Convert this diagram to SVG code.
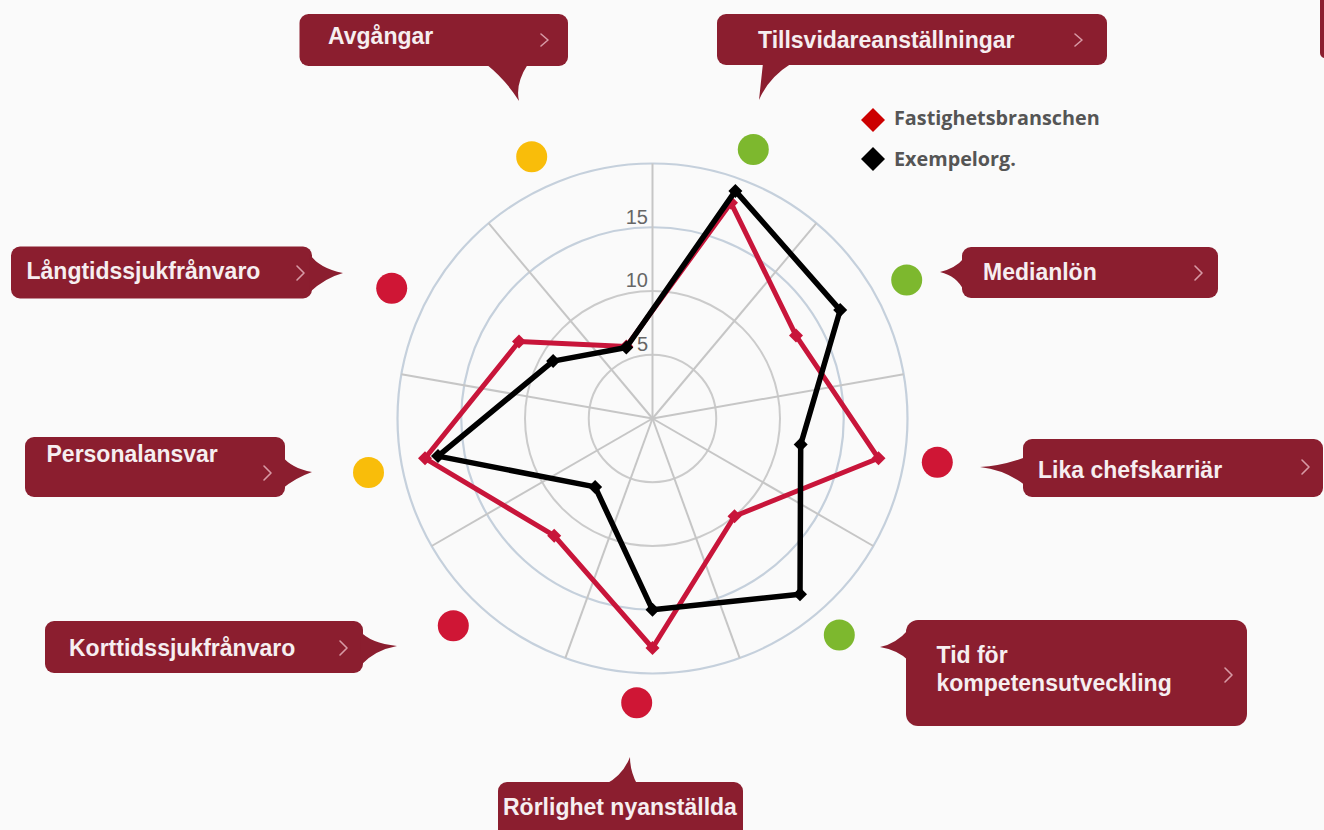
<svg xmlns="http://www.w3.org/2000/svg" width="1324" height="830" viewBox="0 0 1324 830">
<style>
.box{fill:#8b1e2f;}
.lbl{font-family:"Liberation Sans",Arial,sans-serif;font-weight:bold;font-size:23px;fill:#f6eef0;}
.chev{fill:none;stroke:#d79aa5;stroke-width:1.6;stroke-linecap:round;stroke-linejoin:round;}
.ring{fill:none;stroke:#cbcbcb;stroke-width:2;}
.ringb{fill:none;stroke:#c5d0dc;stroke-width:2.2;}
.spoke{stroke:#c6c6c6;stroke-width:2;}
.axis{font-family:"Liberation Sans",Arial,sans-serif;font-size:20px;fill:#666;text-anchor:end;}
.leg{font-family:"Open Sans","Liberation Sans",sans-serif;font-weight:bold;font-size:19.8px;fill:#555;}
.red{fill:none;stroke:#c8153a;stroke-width:5;stroke-linejoin:round;}
.blk{fill:none;stroke:#000;stroke-width:5.5;stroke-linejoin:round;}
.dG{fill:#7db82e;}
.dY{fill:#f9bd0a;}
.dR{fill:#cf1635;}
</style>
<defs>
<path id="mk" d="M0,-7 L7,0 L0,7 L-7,0 Z"/>
</defs>
<rect width="1324" height="830" fill="#fafafa"/>
<rect x="1320" y="-10" width="14" height="68" rx="5" fill="#8b1e2f"/>

<g id="chart">
<circle class="ring" cx="652.5" cy="418.5" r="63.75"/>
<circle class="ring" cx="652.5" cy="418.5" r="127.5"/>
<circle class="ringb" cx="652.5" cy="418.5" r="191.25"/>
<circle class="ringb" cx="652.5" cy="418.5" r="255"/>
<g>
<line class="spoke" x1="652.5" y1="418.5" x2="652.5" y2="163.5"/>
<line class="spoke" x1="652.5" y1="418.5" x2="816.4" y2="223.2"/>
<line class="spoke" x1="652.5" y1="418.5" x2="903.6" y2="374.2"/>
<line class="spoke" x1="652.5" y1="418.5" x2="873.3" y2="546"/>
<line class="spoke" x1="652.5" y1="418.5" x2="739.7" y2="658.1"/>
<line class="spoke" x1="652.5" y1="418.5" x2="565.3" y2="658.1"/>
<line class="spoke" x1="652.5" y1="418.5" x2="431.7" y2="546"/>
<line class="spoke" x1="652.5" y1="418.5" x2="401.4" y2="374.2"/>
<line class="spoke" x1="652.5" y1="418.5" x2="488.6" y2="223.2"/>
</g>
<text class="axis" x="648" y="351">5</text>
<text class="axis" x="648" y="287">10</text>
<text class="axis" x="648" y="224">15</text>
</g>

<g id="series">
<polygon class="red" points="731,202.8 796,335.6 878.5,458.3 734.5,516.2 652.5,648 554.2,535.7 425,458.3 519,341.5 626.3,346.6"/>
<g fill="#c8153a">
<use href="#mk" x="731" y="202.8"/><use href="#mk" x="796" y="335.6"/><use href="#mk" x="878.5" y="458.3"/>
<use href="#mk" x="734.5" y="516.2"/><use href="#mk" x="652.5" y="648"/><use href="#mk" x="554.2" y="535.7"/>
<use href="#mk" x="425" y="458.3"/><use href="#mk" x="519" y="341.5"/><use href="#mk" x="626.3" y="346.6"/>
</g>
<polygon class="blk" points="735.4,190.9 840.2,310.1 800.7,444.6 800,594.3 652.5,609.8 595.1,486.9 438,456.1 553.1,361.1 626.3,347.5"/>
<g fill="#000">
<use href="#mk" x="735.4" y="190.9"/><use href="#mk" x="840.2" y="310.1"/><use href="#mk" x="800.7" y="444.6"/>
<use href="#mk" x="800" y="594.3"/><use href="#mk" x="652.5" y="609.8"/><use href="#mk" x="595.1" y="486.9"/>
<use href="#mk" x="438" y="456.1"/><use href="#mk" x="553.1" y="361.1"/><use href="#mk" x="626.3" y="347.5"/>
</g>
</g>

<g id="legend">
<path d="M873,108 L885,120 L873,132 L861,120 Z" fill="#cc0000"/>
<text class="leg" x="894" y="125">Fastighetsbranschen</text>
<path d="M873,147 L885,159 L873,171 L861,159 Z" fill="#000"/>
<text class="leg" x="894" y="166">Exempelorg.</text>
</g>

<g id="dots">
<circle class="dY" cx="531.7" cy="156.7" r="15.5"/>
<circle class="dG" cx="753.3" cy="149.5" r="15.5"/>
<circle class="dG" cx="906.7" cy="280" r="15.5"/>
<circle class="dR" cx="937.3" cy="462.3" r="15.5"/>
<circle class="dG" cx="839.3" cy="635" r="15.5"/>
<circle class="dR" cx="636.7" cy="702.7" r="15.5"/>
<circle class="dR" cx="453.3" cy="625.7" r="15.5"/>
<circle class="dY" cx="368.5" cy="472.5" r="15.5"/>
<circle class="dR" cx="391.7" cy="288.3" r="15.5"/>
</g>

<g id="avgangar">
<rect class="box" x="299.5" y="14" width="268.5" height="52" rx="9"/>
<path class="box" d="M486,64 Q506,80 519,101 Q515,84 528,64 Z"/>
<text class="lbl" x="328" y="44">Avgångar</text>
<polyline class="chev" points="541,34 548,40 541,46"/>
</g>

<g id="tillsvidare">
<rect class="box" x="717" y="14" width="390" height="51" rx="9"/>
<path class="box" d="M763,63 L759,100 Q768,78 792,63 Z"/>
<text class="lbl" x="758" y="48">Tillsvidareanställningar</text>
<polyline class="chev" points="1075,34 1082,40 1075,46"/>
</g>

<g id="medianlon">
<rect class="box" x="962" y="247" width="256" height="51" rx="9"/>
<path class="box" d="M964,258 Q956,268 940,272 Q957,276 964,291 Z"/>
<text class="lbl" x="983" y="280">Medianlön</text>
<polyline class="chev" points="1195,266 1202,273 1195,280"/>
</g>

<g id="lika">
<rect class="box" x="1023" y="439" width="300" height="58" rx="9"/>
<path class="box" d="M1026,457 Q1002,466 980,467 Q1006,470 1026,486 Z"/>
<text class="lbl" x="1038" y="478">Lika chefskarriär</text>
<polyline class="chev" points="1302,460 1309,467 1302,474"/>
</g>

<g id="tid">
<rect class="box" x="906" y="620" width="341" height="106" rx="12"/>
<path class="box" d="M909,629 Q896,644 880,647 Q898,650 909,661 Z"/>
<text class="lbl" x="936.5" y="663">Tid för</text>
<text class="lbl" x="936.5" y="690.5">kompetensutveckling</text>
<polyline class="chev" points="1225,668 1232,675 1225,682"/>
</g>

<g id="rorlighet">
<rect class="box" x="498" y="782" width="245" height="60" rx="9"/>
<path class="box" d="M606,784 Q623,775 630,757 Q630,771 637,784 Z"/>
<text class="lbl" x="503" y="815">Rörlighet nyanställda</text>
</g>

<g id="korttids">
<rect class="box" x="45" y="621" width="318" height="52" rx="9"/>
<path class="box" d="M360,631 Q370,643 397,646 Q375,650 361,665 Z"/>
<text class="lbl" x="69" y="656">Korttidssjukfrånvaro</text>
<polyline class="chev" points="340,641 347,648 340,655"/>
</g>

<g id="personalansvar">
<rect class="box" x="25" y="437" width="260" height="60" rx="9"/>
<path class="box" d="M282,456 Q291,468 312,472 Q295,478 282,489 Z"/>
<text class="lbl" x="46.5" y="461.5">Personalansvar</text>
<polyline class="chev" points="264,466 271,473 264,480"/>
</g>

<g id="langtids">
<rect class="box" x="11" y="246.5" width="301" height="52" rx="9"/>
<path class="box" d="M309,253 Q318,268 343,273 Q325,278 310,292 Z"/>
<text class="lbl" x="26.5" y="278.5">Långtidssjukfrånvaro</text>
<polyline class="chev" points="297,266 304,273 297,280"/>
</g>

<g id="connectors"></g>
</svg>
